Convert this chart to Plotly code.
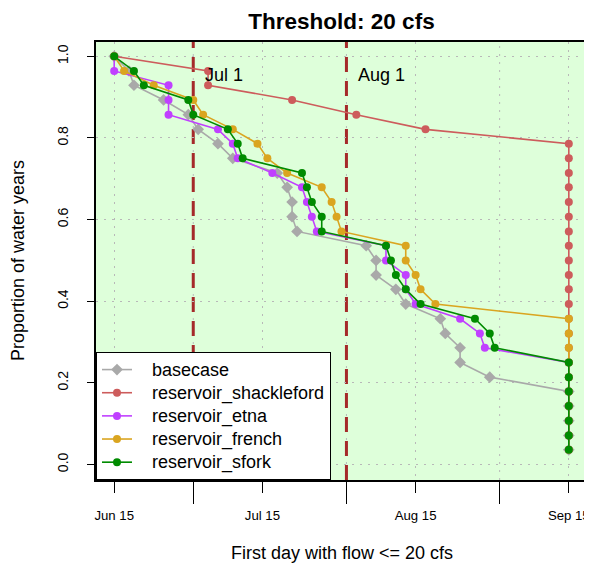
import plotly.graph_objects as go
from datetime import datetime, timedelta

# ---- data (days after Jun 15; one value per water year, sorted) ----
series_names = ["basecase", "reservoir_shackleford", "reservoir_etna",
                "reservoir_french", "reservoir_sfork"]

proportion = [1.000, 0.964, 0.929, 0.893, 0.857, 0.821, 0.786, 0.750,
              0.714, 0.679, 0.643, 0.607, 0.571, 0.536, 0.500, 0.464,
              0.429, 0.393, 0.357, 0.321, 0.286, 0.250, 0.214, 0.179,
              0.143, 0.107, 0.071, 0.036]

basecase_days = [0, 3, 4, 10, 15, 17, 21, 24, 33, 35, 36, 36, 37, 51,
                 53, 53, 57, 59, 66, 67, 70, 70, 76, 92, 92, 92, 92, 92]
shackleford_days = [0, 19, 19, 36, 49, 63, 92, 92, 92, 92, 92, 92, 92, 92,
                    92, 92, 92, 92, 92, 92, 92, 92, 92, 92, 92, 92, 92, 92]
etna_days = [0, 0, 11, 11, 11, 21, 24, 25, 32, 38, 39, 40, 41, 55,
             55, 59, 59, 61, 70, 74, 75, 92, 92, 92, 92, 92, 92, 92]
french_days = [0, 2, 8, 16, 18, 24, 29, 31, 35, 42, 44, 45, 46, 59,
               59, 61, 62, 65, 92, 92, 92, 92, 92, 92, 92, 92, 92, 92]
sfork_days = [0, 4, 6, 15, 16, 23, 25, 26, 38, 39, 40, 42, 42, 55,
              56, 57, 59, 62, 73, 76, 77, 92, 92, 92, 92, 92, 92, 92]

series_days = [basecase_days, shackleford_days, etna_days, french_days, sfork_days]
series_colors = ["#A9A9A9", "#CD5C5C", "#C040FF", "#DAA520", "#008B00"]
series_symbols = ["diamond", "circle", "circle", "circle", "circle"]

label_dates = ["2000-06-15", "2000-07-15", "2000-08-15", "2000-09-15"]
label_texts = ["Jun 15", "Jul 15", "Aug 15", "Sep 15"]
month_dates = ["2000-07-01", "2000-08-01", "2000-09-01"]
marker_lines = ["2000-07-01", "2000-08-01"]
marker_texts = ["Jul 1", "Aug 1"]
y_ticks = [0.0, 0.2, 0.4, 0.6, 0.8, 1.0]
y_ticktext = ["0.0", "0.2", "0.4", "0.6", "0.8", "1.0"]

base = datetime(2000, 6, 15)
FONT = "Liberation Sans, Arial, sans-serif"
GRID = "#B8B8B8"
GRIDDASH = "2px,6px"

# the page adds an 8px body margin; the figure is offset by 8px in the window
W, H = 592, 559

fig = go.Figure()
for name, days, col, sym in zip(series_names, series_days, series_colors, series_symbols):
    xs = [(base + timedelta(days=d)).strftime("%Y-%m-%d") for d in days]
    fig.add_trace(go.Scatter(
        x=xs, y=proportion, mode="lines+markers",
        name='<span style="font-size:18px">&nbsp;&nbsp;&nbsp;' + name + '</span>',
        line=dict(color=col, width=1.6),
        marker=dict(color=col, size=9 if sym == "diamond" else 8, symbol=sym,
                    line=dict(width=0)),
    ))

# dotted grid lines at month starts (drawn as shapes)
for d in month_dates:
    fig.add_shape(type="line", x0=d, x1=d, y0=0, y1=1, xref="x", yref="paper",
                  layer="below", line=dict(color=GRID, width=1, dash=GRIDDASH))

for d in marker_lines:
    fig.add_shape(type="line", x0=d, x1=d, y0=0, y1=1, xref="x", yref="paper",
                  layer="between",
                  line=dict(color="#A52A2A", width=3, dash="15px,9px"))

for d, t in zip(marker_lines, marker_texts):
    fig.add_annotation(x=d, y=0.955, xref="x", yref="y", text=t,
                       showarrow=False, xanchor="left", yanchor="middle",
                       xshift=10, font=dict(size=18, color="black", family=FONT))

x0 = (base + timedelta(days=-3.68)).isoformat()
x1 = (base + timedelta(days=95.68)).isoformat()

fig.update_layout(
    width=W, height=H,
    margin=dict(l=88, r=13, t=34, b=87, autoexpand=False),
    paper_bgcolor="white",
    plot_bgcolor="#DEFFDA",
    font=dict(family=FONT, color="black", size=18),
    showlegend=True,
    legend=dict(x=0, y=0, xanchor="left", yanchor="bottom",
                bgcolor="white", bordercolor="black", borderwidth=1,
                font=dict(size=15.5, family=FONT, color="black"), itemwidth=30,
                tracegroupgap=0, traceorder="normal"),
    title=dict(text="<b>Threshold: 20 cfs</b>", x=0.5, xref="paper",
               y=1 - 13.5 / H, yref="container", yanchor="middle", xanchor="center",
               font=dict(size=22.5, family=FONT, color="black")),
    xaxis=dict(type="date", range=[x0, x1], automargin=False,
               tickmode="array", tickvals=label_dates, ticktext=label_texts,
               ticks="outside", ticklen=11, tickwidth=1, tickcolor="black",
               tickfont=dict(size=13.2, family=FONT),
               ticklabelstandoff=11, ticklabeloverflow="allow",
               showline=True, linecolor="black", linewidth=1.5, mirror=True,
               showgrid=True, gridcolor=GRID, griddash=GRIDDASH, gridwidth=1,
               zeroline=False,
               minor=dict(tickmode="array", tickvals=month_dates, ticks="outside",
                          ticklen=22, tickwidth=1, tickcolor="black",
                          showgrid=False)),
    yaxis=dict(range=[-0.038, 1.035], automargin=False,
               tickmode="array", tickvals=y_ticks, ticktext=y_ticktext,
               ticks="outside", ticklen=7, tickwidth=1, tickcolor="black",
               tickangle=-90, tickfont=dict(size=14, family=FONT),
               ticklabelstandoff=14,
               showline=True, linecolor="black", linewidth=1.5, mirror=True,
               showgrid=True, gridcolor=GRID, griddash=GRIDDASH, gridwidth=1,
               zeroline=False),
)

fig.add_annotation(text="First day with flow <= 20 cfs", xref="paper", yref="paper",
                   x=0.5, y=-73 / 438, showarrow=False, yanchor="middle",
                   font=dict(size=18, family=FONT, color="black"))
fig.add_annotation(text="Proportion of water years", xref="paper", yref="paper",
                   x=-78 / 491, y=0.5, showarrow=False, textangle=-90,
                   xanchor="center", yanchor="middle",
                   font=dict(size=18, family=FONT, color="black"))

fig.write_html("out.html")
